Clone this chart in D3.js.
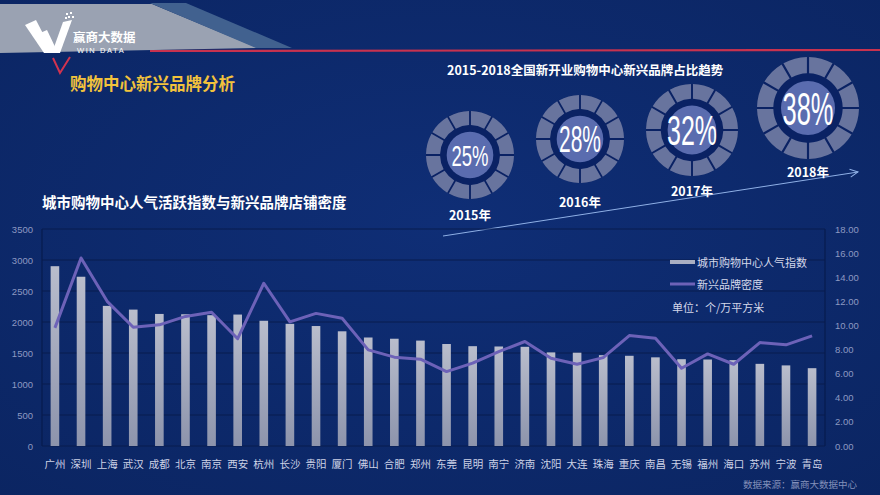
<!DOCTYPE html>
<html><head><meta charset="utf-8">
<script src="https://cdn.jsdelivr.net/npm/d3@7/dist/d3.min.js"></script>
<style>
html,body{margin:0;padding:0;background:#0d2a6c;}
svg{display:block;}
</style></head>
<body>
<svg id="c" width="880" height="495"></svg>
<script>
// ---- data ----
const cities = ["广州","深圳","上海","武汉","成都","北京","南京","西安","杭州","长沙","贵阳","厦门","佛山","合肥","郑州","东莞","昆明","南宁","济南","沈阳","大连","珠海","重庆","南昌","无锡","福州","海口","苏州","宁波","青岛"];
const popularity = [2900,2730,2260,2200,2130,2125,2110,2120,2020,1970,1935,1850,1750,1730,1700,1645,1610,1605,1600,1510,1505,1465,1455,1430,1400,1395,1385,1325,1300,1255];
const density = [9.8,15.6,12.0,9.85,10.05,10.75,11.1,8.9,13.5,10.3,11.0,10.6,7.97,7.37,7.2,6.17,6.87,7.83,8.67,7.28,6.78,7.33,9.16,8.94,6.45,7.64,6.78,8.58,8.39,9.14];
const leftTicks = [0,500,1000,1500,2000,2500,3000,3500];
const rightTicks = [0,2,4,6,8,10,12,14,16,18];
const years = ["2015年","2016年","2017年","2018年"];
const shares = [25,28,32,38];

const CJK = "'Noto Sans CJK SC','Noto Sans',sans-serif";
const LAT = "'Liberation Sans',Arial,sans-serif";
const svg = d3.select("#c");

// background
const defs = svg.append("defs");
const bg = defs.append("radialGradient").attr("id","bg").attr("cx","50%").attr("cy","45%").attr("r","75%");
bg.append("stop").attr("offset","0%").attr("stop-color","#0f2e76");
bg.append("stop").attr("offset","100%").attr("stop-color","#0b2562");
svg.append("rect").attr("width",880).attr("height",495).attr("fill","url(#bg)");

// header banner
svg.append("polygon").attr("points","0,4 152,4 258,48 0,53").attr("fill","#9aa2b2");
svg.append("polygon").attr("points","150,3 186,3 292,48 256,48").attr("fill","#41618f");
svg.append("line").attr("x1",150).attr("y1",51).attr("x2",880).attr("y2",50).attr("stroke","#c8324f").attr("stroke-width",2.2);
// logo
const logo = svg.append("g").attr("fill","#ffffff");
logo.append("polygon").attr("points","25,25 36,20 53,53 44,53");
logo.append("polygon").attr("points","40,33 47,30 58,53 51,53");
logo.append("polygon").attr("points","52,53 60,53 72,20 63,22");
[[66,13],[70,12],[68,16],[72,16],[65,17]].forEach(p=>logo.append("rect").attr("x",p[0]).attr("y",p[1]).attr("width",2).attr("height",2));
svg.append("text").attr("x",73).attr("y",42).attr("font-family",CJK).attr("font-weight","bold").attr("font-size",12.5).attr("fill","#fff").text("赢商大数据");
svg.append("text").attr("x",77).attr("y",53).attr("font-family",LAT).attr("font-size",7.5).attr("letter-spacing",1.6).attr("fill","#fff").text("WIN DATA");
// red V
svg.append("polyline").attr("points","53,58 60,73 70,57").attr("fill","none").attr("stroke","#d2334f").attr("stroke-width",2);
svg.append("text").attr("x",70).attr("y",90).attr("font-family",CJK).attr("font-weight","bold").attr("font-size",16.5).attr("fill","#f2c23c").text("购物中心新兴品牌分析");

// donut section
svg.append("text").attr("x",447).attr("y",75).attr("font-family",CJK).attr("font-weight","bold").attr("font-size",12.5).attr("fill","#fff").text("2015-2018全国新开业购物中心新兴品牌占比趋势");
const mk = defs.append("marker").attr("id","arr").attr("viewBox","0 0 10 10").attr("refX",9).attr("refY",5).attr("markerWidth",10).attr("markerHeight",10).attr("orient","auto").attr("markerUnits","userSpaceOnUse");
mk.append("path").attr("d","M1,1 L9,5 L1,9").attr("fill","none").attr("stroke","#8fb0e6").attr("stroke-width",1);
svg.append("line").attr("x1",443).attr("y1",236).attr("x2",858).attr("y2",172).attr("stroke","#8fb0e6").attr("stroke-width",1).attr("marker-end","url(#arr)");

const donutLayout = [
  {cx:470,cy:155,r:44,fs:30,tl:37,ly:220},
  {cx:580,cy:139,r:44,fs:36,tl:42,ly:207},
  {cx:692,cy:130,r:46,fs:42,tl:50,ly:196},
  {cx:808,cy:108,r:51,fs:46,tl:51,ly:177}
];
const pie = d3.pie().sort(null).value(1).padAngle(0.035);
shares.forEach((s,i)=>{
  const L = donutLayout[i];
  const g = svg.append("g").attr("transform",`translate(${L.cx},${L.cy})`);
  g.append("circle").attr("r",L.r).attr("fill","#0a2264");
  const arc = d3.arc().innerRadius(L.r*0.68).outerRadius(L.r);
  g.selectAll("path.seg").data(pie(d3.range(12))).join("path").attr("class","seg").attr("d",arc).attr("fill","#68749e");
  g.append("circle").attr("r",L.r*0.53).attr("fill","#5a6caf");
  g.append("text").attr("y",L.fs*0.36).attr("text-anchor","middle").attr("font-family","'Liberation Sans Narrow','Liberation Sans',sans-serif")
    .attr("font-size",L.fs).attr("fill","#fff").attr("textLength",L.tl).attr("lengthAdjust","spacingAndGlyphs").text(s+"%");
  svg.append("text").attr("x",L.cx).attr("y",L.ly).attr("text-anchor","middle").attr("font-family",CJK).attr("font-weight","bold").attr("font-size",12.5).attr("fill","#fff").text(years[i]);
});

// chart
svg.append("text").attr("x",42).attr("y",208).attr("font-family",CJK).attr("font-weight","bold").attr("font-size",14.5).attr("fill","#fff").text("城市购物中心人气活跃指数与新兴品牌店铺密度");

const x0=42, x1=825, yTop=229, yBot=446;
const x = d3.scaleBand().domain(cities).range([x0,x1]).paddingInner(0.67).paddingOuter(0.33);
const yL = d3.scaleLinear().domain([0,3500]).range([yBot,yTop]);
const yR = d3.scaleLinear().domain([0,18]).range([yBot,yTop]);

// grid
svg.append("g").selectAll("line").data(leftTicks).join("line")
  .attr("x1",x0).attr("x2",x1).attr("y1",d=>yL(d)).attr("y2",d=>yL(d)).attr("stroke","#081c4e").attr("stroke-width",1.2);
svg.append("line").attr("x1",x0).attr("x2",x0).attr("y1",yTop).attr("y2",yBot).attr("stroke","#081c4e").attr("stroke-width",1.2);
svg.append("line").attr("x1",x1).attr("x2",x1).attr("y1",yTop).attr("y2",yBot).attr("stroke","#081c4e").attr("stroke-width",1.2);

// axes
const axL = svg.append("g").attr("transform",`translate(${x0-9},0)`).call(d3.axisLeft(yL).tickValues(leftTicks).tickSize(0).tickPadding(0).tickFormat(d3.format("d")));
const axR = svg.append("g").attr("transform",`translate(${x1+10},0)`).call(d3.axisRight(yR).tickValues(rightTicks).tickSize(0).tickPadding(0).tickFormat(d3.format(".2f")));
[axL,axR].forEach(a=>{a.select(".domain").remove();a.selectAll("text").attr("fill","#8d99c2").attr("font-family",LAT).attr("font-size",9.5);});

// bars
const bg2 = defs.append("linearGradient").attr("id","bar").attr("x1",0).attr("x2",0).attr("y1",0).attr("y2",1);
bg2.append("stop").attr("offset","0%").attr("stop-color","#b9bdcc");
bg2.append("stop").attr("offset","100%").attr("stop-color","#8d94ac");
svg.append("g").selectAll("rect").data(popularity).join("rect")
  .attr("x",(d,i)=>x(cities[i])).attr("width",x.bandwidth())
  .attr("y",d=>yL(d)).attr("height",d=>yBot-yL(d)).attr("fill","url(#bar)");

// line
const line = d3.line().x((d,i)=>x(cities[i])+x.bandwidth()/2).y(d=>yR(d));
svg.append("path").datum(density).attr("d",line).attr("fill","none").attr("stroke","#6d62b8").attr("stroke-width",3).attr("stroke-linejoin","round");

// x labels
svg.append("g").selectAll("text").data(cities).join("text")
  .attr("x",d=>x(d)+x.bandwidth()/2).attr("y",468).attr("text-anchor","middle")
  .attr("font-family",CJK).attr("font-size",10.5).attr("fill","#cdd2e6").text(d=>d);

// legend
svg.append("rect").attr("x",670).attr("y",260).attr("width",25).attr("height",4).attr("fill","#a9aec2");
svg.append("text").attr("x",697).attr("y",267).attr("font-family",CJK).attr("font-size",11).attr("fill","#d4d8ea").text("城市购物中心人气指数");
svg.append("line").attr("x1",670).attr("x2",695).attr("y1",284).attr("y2",284).attr("stroke","#6d62b8").attr("stroke-width",3);
svg.append("text").attr("x",697).attr("y",289).attr("font-family",CJK).attr("font-size",11).attr("fill","#d4d8ea").text("新兴品牌密度");
svg.append("text").attr("x",672).attr("y",312).attr("font-family",CJK).attr("font-size",11).attr("fill","#d4d8ea").text("单位：个/万平方米");

svg.append("text").attr("x",743).attr("y",488).attr("font-family",CJK).attr("font-size",9.5).attr("fill","#8390ba").text("数据来源：赢商大数据中心");
</script>
</body></html>
